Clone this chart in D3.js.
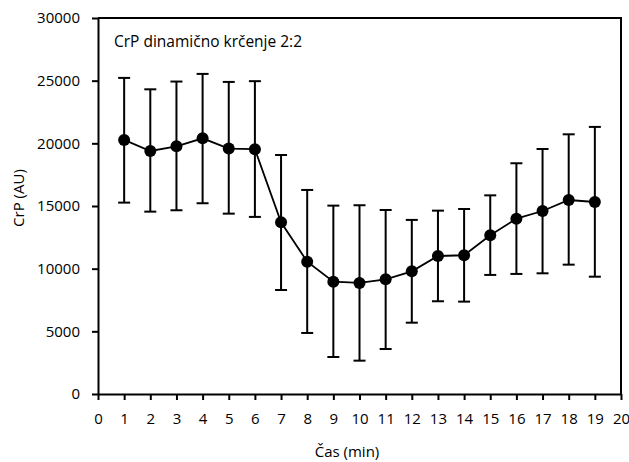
<!DOCTYPE html>
<html>
<head>
<meta charset="utf-8">
<script src="https://cdn.jsdelivr.net/npm/d3@7"></script>
<style>
  body { margin: 0; background: #fff; }
  text { font-family: "Open Sans", "Noto Sans", sans-serif; fill: #000; }
</style>
</head>
<body>
<script>
// minutes
var minutes = [1,2,3,4,5,6,7,8,9,10,11,12,13,14,15,16,17,18,19];
// mean CrP (AU)
var means = [20270,19390,19760,20400,19580,19530,13700,10560,8960,8860,9150,9790,11010,11070,12670,13990,14600,15480,15320];
// error bar top / bottom
var upper = [25220,24310,24930,25540,24900,24960,19070,16280,15030,15060,14680,13890,14630,14760,15850,18410,19550,20720,21310];
var lower = [15270,14550,14660,15220,14390,14130,8300,4870,2950,2660,3590,5690,7400,7370,9500,9580,9630,10320,9360];

var xTicks = d3.range(0, 21);
var yTicks = [0,5000,10000,15000,20000,25000,30000];

var w = 629;
var h = 462;
var pLeft = 98, pRight = 621, pTop = 18, pBottom = 394;

var svg = d3.select("body")
.append("svg")
.attr("width", w)
.attr("height", h);

var x = d3.scaleLinear().domain([0, 20]).range([pLeft, pRight]);
var y = d3.scaleLinear().domain([0, 30000]).range([pBottom, pTop]);

// box (top + right)
svg.append("path")
.attr("d", "M" + pLeft + "," + pTop + "H" + pRight + "V" + pBottom)
.attr("fill", "none")
.attr("stroke", "#000")
.attr("stroke-width", 2);

var xAxis = svg.append("g")
.attr("transform", "translate(0," + pBottom + ")")
.call(d3.axisBottom(x).tickValues(xTicks).tickSize(6).tickSizeOuter(0).tickPadding(13).tickFormat(d3.format("d")));

var yAxis = svg.append("g")
.attr("transform", "translate(" + pLeft + ",0)")
.call(d3.axisLeft(y).tickValues(yTicks).tickSize(6).tickSizeOuter(0).tickPadding(12).tickFormat(d3.format("d")));

[xAxis, yAxis].forEach(function(g) {
  g.selectAll("path, line").attr("stroke", "#000").attr("stroke-width", 2);
  g.selectAll("text").attr("font-size", "15px").attr("font-family", "\"Open Sans\", sans-serif").attr("fill", "#000");
});

// error bars
var bars = svg.selectAll("g.err")
.data(minutes)
.enter()
.append("g")
.attr("class", "err");

bars.append("line")
.attr("x1", function(d) { return x(d); })
.attr("x2", function(d) { return x(d); })
.attr("y1", function(d, i) { return y(upper[i]); })
.attr("y2", function(d, i) { return y(lower[i]); })
.attr("stroke", "#000")
.attr("stroke-width", 2);

bars.append("line")
.attr("x1", function(d) { return x(d) - 6; })
.attr("x2", function(d) { return x(d) + 6; })
.attr("y1", function(d, i) { return y(upper[i]); })
.attr("y2", function(d, i) { return y(upper[i]); })
.attr("stroke", "#000")
.attr("stroke-width", 2);

bars.append("line")
.attr("x1", function(d) { return x(d) - 6; })
.attr("x2", function(d) { return x(d) + 6; })
.attr("y1", function(d, i) { return y(lower[i]); })
.attr("y2", function(d, i) { return y(lower[i]); })
.attr("stroke", "#000")
.attr("stroke-width", 2);

// mean line
var line = d3.line()
.x(function(d) { return x(d); })
.y(function(d, i) { return y(means[i]); });

svg.append("path")
.datum(minutes)
.attr("d", line)
.attr("fill", "none")
.attr("stroke", "#000")
.attr("stroke-width", 1.8);

svg.selectAll("circle")
.data(minutes)
.enter()
.append("circle")
.attr("cx", function(d) { return x(d); })
.attr("cy", function(d, i) { return y(means[i]); })
.attr("r", 6)
.attr("fill", "#000");

// labels
svg.append("text")
.text("CrP dinamično krčenje 2:2")
.attr("x", 114)
.attr("y", 47)
.attr("font-size", "15.5px");

svg.append("text")
.text("Čas (min)")
.attr("text-anchor", "middle")
.attr("x", 347)
.attr("y", 457)
.attr("font-size", "15px");

svg.append("text")
.text("CrP (AU)")
.attr("text-anchor", "middle")
.attr("transform", "translate(24,198) rotate(-90)")
.attr("font-size", "15px");
</script>
</body>
</html>
